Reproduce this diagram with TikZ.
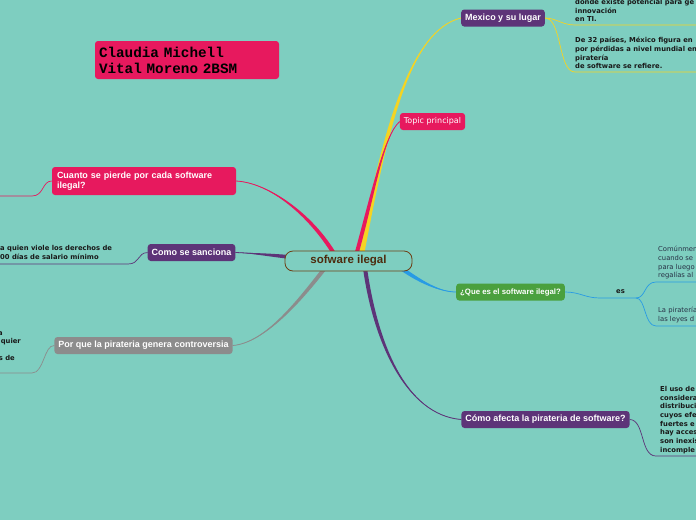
\documentclass[tikz,border=0pt]{standalone}
\usepackage{fontspec}
\setmainfont{Liberation Sans}
\newfontfamily\notefont{DejaVu Sans}
\newfontfamily\titlefont{Liberation Mono}
\usetikzlibrary{calc}
\pgfdeclarelayer{ground}
\pgfdeclarelayer{links}
\pgfsetlayers{ground,links,main}
\definecolor{teal0}{RGB}{126,206,192}
\definecolor{pinkbr}{RGB}{231,25,94}
\definecolor{purpbr}{RGB}{93,52,120}
\definecolor{greybr}{RGB}{140,140,140}
\definecolor{greenbr}{RGB}{74,160,62}
\definecolor{bluebr}{RGB}{40,155,228}
\definecolor{yellbr}{RGB}{245,212,34}
\definecolor{brownbr}{RGB}{110,62,20}
\definecolor{notetxt}{RGB}{25,25,25}
\definecolor{softtxt}{RGB}{40,50,70}

% tapered branch: colour, start, control 1, control 2, end, half width
\newcommand{\branch}[6]{%
  \fill[#1] ($#2+#6$) .. controls ($#3+#6$) and #4 .. #5 .. controls #4 and ($#3-#6$) .. ($#2-#6$) -- cycle;
  \draw[#1,line width=.8pt] #2 .. controls #3 and #4 .. #5;}

\begin{document}
\begin{tikzpicture}[x=1pt,y=-1pt,
  topic/.style={rounded corners=3pt,text=white,font=\bfseries\fontsize{9}{10.5}\selectfont,inner xsep=4pt,inner ysep=0pt,minimum height=17pt},
  note/.style={font=\notefont\bfseries\fontsize{6.8}{8.7}\selectfont,text=notetxt,align=left,inner sep=0pt},
  soft/.style={font=\notefont\fontsize{6.8}{8.7}\selectfont,text=softtxt,align=left,inner sep=0pt},
  twig/.style={line width=.7pt}]
\begin{pgfonlayer}{ground}
\fill[teal0] (0,0) rectangle (696,520);
\end{pgfonlayer}
\useasboundingbox (0,0) rectangle (696,520);

\node[draw=brownbr,line width=.8pt,fill=teal0,rounded corners=8pt,minimum width=127pt,minimum height=20pt,
  text=brownbr!70!black,font=\bfseries\fontsize{11.5}{13}\selectfont] (sw) at (348.5,261) {sofware ilegal};

\node[fill=pinkbr,rounded corners=3pt,minimum height=38pt,text width=176pt,inner xsep=4pt,align=left,
  font=\titlefont\bfseries\fontsize{14.3}{16}\selectfont] (name) at (187,60) {Claudia Michell\\Vital Moreno 2BSM};

\node[topic,fill=purpbr] (mex) at (503,18) {Mexico y su lugar};
\node[topic,fill=pinkbr,font=\notefont\fontsize{8}{9}\selectfont,inner xsep=4pt] (tp) at (432.5,121.5) {Topic principal};
\node[topic,fill=greenbr,font=\bfseries\fontsize{7.8}{9}\selectfont] (que) at (510.5,292) {¿Que es el software ilegal?};
\node[topic,fill=purpbr] (afe) at (545.5,419.5) {Cómo afecta la pirateria de software?};
\node[topic,fill=pinkbr,text width=174pt,align=left,inner xsep=5pt,minimum height=28pt] (cua) at (144,181) {Cuanto se pierde por cada software\\ilegal?};
\node[topic,fill=purpbr] (san) at (191.5,252.5) {Como se sanciona};
\node[topic,fill=greybr] (con) at (143.5,345.5) {Por que la pirateria genera controversia};

\node[note,anchor=north west] (mx1) at (575,-1) {donde existe potencial para ge\\innovación\\en TI.};
\node[note,anchor=north west] (mx2) at (575,37) {De 32 países, México figura en\\por pérdidas a nivel mundial en\\piratería\\de software se refiere.};
\node[note,anchor=north west] (sa1) at (0,245.5) {a quien viole los derechos de\\00 días de salario mínimo};
\node[note,anchor=base east] (co1) at (3,335) {a};
\node[note,anchor=base east] (co2) at (21,343.5) {quier};
\node[note,anchor=base east] (co3) at (15,360) {s de};
\node[note] (es) at (620.5,292) {es};
\node[soft,anchor=north west] (qe1) at (658,246) {Comúnmen\\cuando se\\para luego\\regalías al};
\node[soft,anchor=north west] (qe2) at (658,307) {La piratería\\las leyes d};
\node[note,anchor=north west] (af1) at (660,386) {El uso de\\considera\\distribuci\\cuyos efe\\fuertes e\\hay acces\\son inexis\\incomple};

\coordinate (mxe1) at (696,25);
\coordinate (mxe2) at (696,72);
\coordinate (cue) at (0,196);
\coordinate (sae) at (0,264);
\coordinate (coe) at (0,373);
\coordinate (qfork) at (636,298);
\coordinate (qee1) at (696,282);
\coordinate (qee2) at (696,326);
\coordinate (afee) at (696,456);

\begin{pgfonlayer}{links}
\branch{yellbr}{(362,252)}{(385,130)}{(410,30)}{(mex.west)}{(2.5,0.5)}
\branch{pinkbr}{(357,252)}{(374,190)}{(384,135)}{(tp.west)}{(1.9,0.6)}
\branch{pinkbr}{(333,252)}{(310,215)}{(270,183)}{(cua.east)}{(1.7,-1.1)}
\branch{purpbr}{(300,258)}{(270,255)}{(250,253)}{(san.east)}{(0,2)}
\branch{greybr}{(325,268)}{(300,300)}{(265,343)}{(con.east)}{(1.5,1.3)}
\branch{purpbr}{(365,268)}{(375,340)}{(405,415)}{(afe.west)}{(2,-0.3)}
\branch{bluebr}{(398,266)}{(420,282)}{(440,292)}{(que.west)}{(1.1,-1.7)}

\draw[yellbr,twig] (mex.east) .. controls (556,18) and (562,25) .. (575,25) -- (mxe1);
\draw[yellbr,twig] (mex.east) .. controls (562,18) and (558,72) .. (575,72) -- (mxe2);
\draw[pinkbr,twig] (cua.west) .. controls (42,181) and (44,196) .. (32,196) -- (cue);
\draw[purpbr,twig] (san.west) .. controls (137,253) and (140,264) .. (128,264) -- (sae);
\draw[greybr,twig] (con.west) .. controls (44,345) and (44,373) .. (32,373) -- (coe);
\draw[bluebr,twig] (que.east) .. controls (580,292) and (585,298) .. (600,298) -- (qfork);
\draw[bluebr,twig] (qfork) .. controls (646,298) and (644,282) .. (656,282) -- (qee1);
\draw[bluebr,twig] (qfork) .. controls (646,298) and (644,326) .. (656,326) -- (qee2);
\draw[purpbr,twig] (afe.east) .. controls (645,420) and (640,456) .. (656,456) -- (afee);
\end{pgfonlayer}
\end{tikzpicture}
\end{document}
